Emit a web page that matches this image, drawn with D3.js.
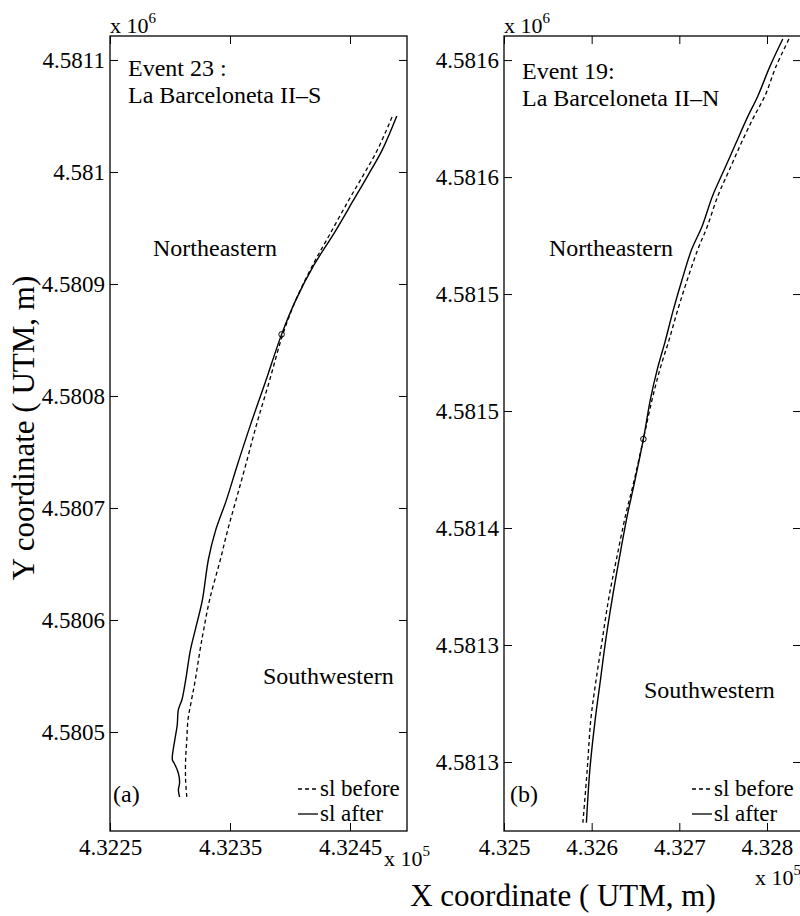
<!DOCTYPE html>
<html>
<head>
<meta charset="utf-8">
<script src="https://cdn.jsdelivr.net/npm/d3@7"></script>
<style>
  body { margin: 0; background: #fff; }
  svg { display: block; }
  text { font-family: "Liberation Serif", "Times New Roman", Times, serif; fill: #000; }
</style>
</head>
<body>
<svg id="chart" width="800" height="916"></svg>
<script>
// Shoreline traces in UTM metres, [easting, northing]
const event23Before = [
  [432485, 4581049], [432473, 4581020], [432461, 4580997], [432449, 4580975],
  [432433, 4580944], [432419, 4580917], [432405, 4580886], [432394, 4580855],
  [432383, 4580814], [432372, 4580774], [432363, 4580738], [432355, 4580707],
  [432348, 4580680], [432342, 4580654], [432333, 4580618], [432328, 4580591],
  [432325, 4580573], [432321, 4580546], [432318, 4580529], [432315, 4580511],
  [432314, 4580493], [432313, 4580475], [432313, 4580457], [432314, 4580442]
];
const event23After = [
  [432489, 4581050], [432477, 4581020], [432465, 4580997], [432453, 4580975],
  [432436, 4580944], [432420, 4580917], [432405, 4580886], [432393, 4580855],
  [432380, 4580814], [432367, 4580774], [432356, 4580738], [432347, 4580707],
  [432338, 4580680], [432332, 4580654], [432327, 4580618], [432321, 4580591],
  [432317, 4580573], [432313, 4580546], [432310, 4580529], [432307, 4580520],
  [432306, 4580506], [432304, 4580493], [432302, 4580479], [432302, 4580475],
  [432304, 4580471], [432307, 4580463], [432308, 4580455], [432307, 4580448],
  [432308, 4580442]
];
const event23Pivot = [432393, 4580855];

const event19Before = [
  [432590, 4581274], [432595, 4581297], [432599, 4581318], [432605, 4581335],
  [432612, 4581352], [432620, 4581371], [432629, 4581388], [432639, 4581406],
  [432647, 4581418], [432659, 4581438], [432669, 4581455], [432678, 4581468],
  [432688, 4581480], [432698, 4581493], [432709, 4581506], [432721, 4581519],
  [432732, 4581529], [432744, 4581542], [432757, 4581553], [432770, 4581564],
  [432784, 4581575], [432798, 4581585], [432810, 4581597], [432825, 4581609]
];
const event19After = [
  [432594, 4581274], [432598, 4581297], [432604, 4581318], [432610, 4581335],
  [432616, 4581352], [432624, 4581371], [432632, 4581388], [432641, 4581406],
  [432648, 4581418], [432659, 4581438], [432667, 4581455], [432675, 4581468],
  [432684, 4581480], [432693, 4581493], [432703, 4581506], [432714, 4581519],
  [432726, 4581529], [432738, 4581542], [432751, 4581553], [432764, 4581564],
  [432777, 4581575], [432790, 4581585], [432803, 4581597], [432818, 4581609]
];
const event19Pivot = [432659, 4581438];

// Axis extents and ticks (metres); labels are in units of 1e5 / 1e6
const event23XDomain = [432250, 432497.5];
const event23YDomain = [4580411.6, 4581121.4];
const event23XTicks = [432250, 432350, 432450];
const event23XTickLabels = ["4.3225", "4.3235", "4.3245"];
const event23YTicks = [4580500, 4580600, 4580700, 4580800, 4580900, 4581000, 4581100];
const event23YTickLabels = ["4.5805", "4.5806", "4.5807", "4.5808", "4.5809", "4.581", "4.5811"];

const event19XDomain = [432500, 432838.8];
const event19YDomain = [4581270.5, 4581610.3];
const event19XTicks = [432500, 432600, 432700, 432800];
const event19XTickLabels = ["4.325", "4.326", "4.327", "4.328"];
const event19YTicks = [4581300, 4581350, 4581400, 4581450, 4581500, 4581550, 4581600];
const event19YTickLabels = ["4.5813", "4.5813", "4.5814", "4.5815", "4.5815", "4.5816", "4.5816"];

const legendLabels = ["sl before", "sl after"];

const svg = d3.select("#chart");
const SERIF = '"Liberation Serif", "Times New Roman", Times, serif';
const TICK_FONT = 23;
const NOTE_FONT = 24;
const LEGEND_FONT = 23;

function drawPanel(p) {
  const x = d3.scaleLinear().domain(p.xDomain).range([p.left, p.left + p.width]);
  const y = d3.scaleLinear().domain(p.yDomain).range([p.top + p.height, p.top]);
  const g = svg.append("g");

  const clipId = "clip-" + p.id;
  svg.append("clipPath").attr("id", clipId)
    .append("rect").attr("x", p.left).attr("y", p.top)
    .attr("width", p.width).attr("height", p.height);

  const xLabel = d => p.xTickLabels[p.xTicks.indexOf(d)];
  const yLabel = d => p.yTickLabels[p.yTicks.indexOf(d)];

  // bottom axis with labels, inward ticks
  g.append("g").attr("transform", `translate(0,${p.top + p.height})`)
    .call(d3.axisBottom(x).tickValues(p.xTicks).tickFormat(xLabel)
      .tickSizeInner(-8).tickSizeOuter(0).tickPadding(8));
  // top axis, ticks only
  g.append("g").attr("transform", `translate(0,${p.top})`)
    .call(d3.axisTop(x).tickValues(p.xTicks).tickFormat("")
      .tickSizeInner(-8).tickSizeOuter(0));
  // left axis with labels
  g.append("g").attr("transform", `translate(${p.left},0)`)
    .call(d3.axisLeft(y).tickValues(p.yTicks).tickFormat(yLabel)
      .tickSizeInner(-8).tickSizeOuter(0).tickPadding(5));
  // right axis, ticks only
  g.append("g").attr("transform", `translate(${p.left + p.width},0)`)
    .call(d3.axisRight(y).tickValues(p.yTicks).tickFormat("")
      .tickSizeInner(-8).tickSizeOuter(0));

  g.selectAll("g").attr("font-family", SERIF);
  g.selectAll(".domain").remove();
  g.selectAll(".tick line").attr("stroke", "#000").attr("stroke-width", 1);
  g.selectAll(".tick text")
    .style("font-family", SERIF)
    .attr("font-size", TICK_FONT).attr("fill", "#000");

  // frame
  g.append("rect").attr("x", p.left).attr("y", p.top)
    .attr("width", p.width).attr("height", p.height)
    .attr("fill", "none").attr("stroke", "#000").attr("stroke-width", 1.3);

  // shorelines
  const line = d3.line().x(d => x(d[0])).y(d => y(d[1])).curve(d3.curveCatmullRom.alpha(0.5));
  const traces = g.append("g").attr("clip-path", `url(#${clipId})`);
  traces.append("path").datum(p.before).attr("d", line)
    .attr("fill", "none").attr("stroke", "#000").attr("stroke-width", 1.3)
    .attr("stroke-dasharray", "4,3");
  traces.append("path").datum(p.after).attr("d", line)
    .attr("fill", "none").attr("stroke", "#000").attr("stroke-width", 1.4);
  traces.append("circle").attr("cx", x(p.pivot[0])).attr("cy", y(p.pivot[1])).attr("r", 2.8)
    .attr("fill", "none").attr("stroke", "#000").attr("stroke-width", 1);

  // exponent labels
  const e6 = g.append("text").attr("x", p.left).attr("y", p.top - 3).attr("font-size", 22);
  e6.append("tspan").text("x 10");
  e6.append("tspan").attr("dy", -10).attr("font-size", 15).text("6");
  const e5 = g.append("text").attr("x", p.e5x).attr("y", p.e5y).attr("font-size", 22);
  e5.append("tspan").text("x 10");
  e5.append("tspan").attr("dy", -10).attr("font-size", 15).text("5");

  // annotations
  p.notes.forEach(n => {
    g.append("text").attr("x", n.x).attr("y", n.y).attr("font-size", NOTE_FONT).text(n.t);
  });

  // legend
  const lx = p.left + p.width - 109;
  const rows = [{ dash: "4,3", y: p.legendY }, { dash: null, y: p.legendY + 25 }];
  rows.forEach((r, i) => {
    g.append("line").attr("x1", lx).attr("x2", lx + 20)
      .attr("y1", r.y - 7).attr("y2", r.y - 7)
      .attr("stroke", "#000").attr("stroke-width", 1.3)
      .attr("stroke-dasharray", r.dash);
    g.append("text").attr("x", lx + 22).attr("y", r.y).attr("font-size", LEGEND_FONT)
      .text(legendLabels[i]);
  });
}

drawPanel({
  id: "a", left: 110, top: 36, width: 297, height: 795,
  xDomain: event23XDomain, yDomain: event23YDomain,
  xTicks: event23XTicks, xTickLabels: event23XTickLabels,
  yTicks: event23YTicks, yTickLabels: event23YTickLabels,
  before: event23Before, after: event23After, pivot: event23Pivot,
  e5x: 384, e5y: 866, legendY: 796,
  notes: [
    { x: 128, y: 76, t: "Event 23 :" },
    { x: 128, y: 103, t: "La Barceloneta II\u2013S" },
    { x: 153, y: 256, t: "Northeastern" },
    { x: 263, y: 684, t: "Southwestern" },
    { x: 113, y: 802, t: "(a)" }
  ]
});

drawPanel({
  id: "b", left: 504, top: 36, width: 297, height: 795,
  xDomain: event19XDomain, yDomain: event19YDomain,
  xTicks: event19XTicks, xTickLabels: event19XTickLabels,
  yTicks: event19YTicks, yTickLabels: event19YTickLabels,
  before: event19Before, after: event19After, pivot: event19Pivot,
  e5x: 755, e5y: 885, legendY: 796,
  notes: [
    { x: 522, y: 79, t: "Event 19:" },
    { x: 522, y: 106, t: "La Barceloneta II\u2013N" },
    { x: 549, y: 256, t: "Northeastern" },
    { x: 644, y: 698, t: "Southwestern" },
    { x: 510, y: 802, t: "(b)" }
  ]
});

// shared axis titles
svg.append("text").attr("transform", "translate(34,428) rotate(-90)")
  .attr("text-anchor", "middle").attr("font-size", 31).text("Y coordinate ( UTM, m)");
svg.append("text").attr("x", 563).attr("y", 906)
  .attr("text-anchor", "middle").attr("font-size", 31).text("X coordinate ( UTM, m)");
</script>
</body>
</html>
